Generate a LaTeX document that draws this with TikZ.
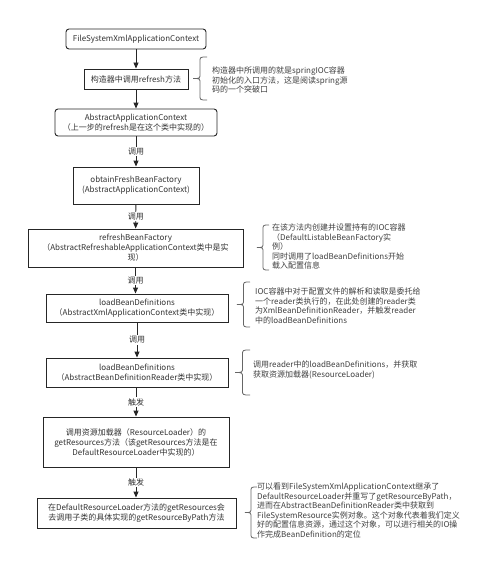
\documentclass[tikz,border=0pt]{standalone}
\usepackage{fontspec}
\setmainfont{Noto Sans CJK SC}
\usetikzlibrary{arrows.meta}
\newcommand{\drawbrace}[4]{%
  \pgfmathsetmacro\bxm{(#1+#2)/2}%
  \pgfmathsetmacro\bym{(#3+#4)/2}%
  \draw[brc] (#2,#3) .. controls (\bxm,#3) .. (\bxm,#3+5) -- (\bxm,\bym-5)
    .. controls (\bxm,\bym) .. (#1,\bym) .. controls (\bxm,\bym) .. (\bxm,\bym+5)
    -- (\bxm,#4-5) .. controls (\bxm,#4) .. (#2,#4);}
\begin{document}
\begin{tikzpicture}[x=1pt,y=-1pt,
 box/.style={draw=black!85, line width=0.9pt, fill=white, align=center, inner sep=1pt, font=\fontsize{8}{10}\selectfont, text=black!80},
 rbox/.style={box, rounded corners=3pt},
 arr/.style={draw=black!85, line width=0.9pt, -{Triangle[length=6pt,width=5pt]}},
 lbl/.style={fill=white, inner sep=1pt, font=\fontsize{8}{10}\selectfont, text=black!80},
 note/.style={anchor=north west, align=left, inner sep=0pt, font=\fontsize{8}{9.5}\selectfont, text=black!75},
 brc/.style={draw=black!60, line width=0.8pt}
]
\useasboundingbox[fill=white] (0,0) rectangle (500,578);

\node[rbox, minimum width=140pt, minimum height=20pt] (b1) at (136,39) {FileSystemXmlApplicationContext};
\node[box, minimum width=104pt, minimum height=20pt] (b2) at (136,79) {构造器中调用refresh方法};
\node[rbox, minimum width=162pt, minimum height=27pt] (b3) at (136,122.5) {AbstractApplicationContext\\（上一步的refresh是在这个类中实现的）};
\node[box, minimum width=126pt, minimum height=37pt] (b4) at (136,185.5) {obtainFreshBeanFactory\\(AbstractApplicationContext)};
\node[box, minimum width=215pt, minimum height=38pt] (b5) at (135.5,248) {refreshBeanFactory\\（AbstractRefreshableApplicationContext类中是实\\现）};
\node[box, minimum width=182pt, minimum height=28pt] (b6) at (137,308) {loadBeanDefinitions\\（AbstractXmlApplicationContext类中实现）};
\node[box, minimum width=182pt, minimum height=29pt] (b7) at (137,372.5) {loadBeanDefinitions\\（AbstractBeanDefinitionReader类中实现）};
\node[box, minimum width=186pt, minimum height=50pt] (b8) at (136,442) {调用资源加载器（ResourceLoader）的\\getResources方法（该getResources方法是在\\DefaultResourceLoader中实现的）};
\node[box, minimum width=199pt, minimum height=30pt] (b9) at (136.5,513) {在DefaultResourceLoader方法的getResources会\\去调用子类的具体实现的getResourceByPath方法};

\draw[arr] (b1) -- (b2);
\draw[arr] (b2) -- (b3);
\draw[arr] (b3) -- node[lbl] {调用} (b4);
\draw[arr] (b4) -- node[lbl] {调用} (b5);
\draw[arr] (b5) -- node[lbl] {调用} (b6.north -| b5.south);
\draw[arr] (b6) -- node[lbl] {调用} (b7);
\draw[arr] (b7.south -| b8.north) -- node[lbl] {触发} (b8);
\draw[arr] (b8) -- node[lbl] {触发} (b9.north -| b8.south);

\drawbrace{193}{207}{57}{100}
\node[note] (n1) at (212,67) {构造器中所调用的就是springIOC容器\\初始化的入口方法，这是阅读spring源\\码的一个突破口};
\drawbrace{257}{269}{225}{270}
\node[note] (n2) at (272,224) {在该方法内创建并设置持有的IOC容器\\（DefaultListableBeanFactory实\\例）\\同时调用了loadBeanDefinitions开始\\载入配置信息};
\drawbrace{237}{250}{282}{327}
\node[note] (n3) at (255,288) {IOC容器中对于配置文件的解析和读取是委托给\\一个reader类执行的，在此处创建的reader类\\为XmlBeanDefinitionReader，并触发reader\\中的loadBeanDefinitions};
\drawbrace{235}{250}{350}{395}
\node[note] (n4) at (253,361) {调用reader中的loadBeanDefinitions，并获取\\获取资源加载器(ResourceLoader)};
\drawbrace{245}{257}{487}{538}
\node[note] (n5) at (257,483) {可以看到FileSystemXmlApplicationContext继承了\\DefaultResourceLoader并重写了getResourceByPath，\\进而在AbstractBeanDefinitionReader类中获取到\\FileSystemResource实例对象。这个对象代表着我们定义\\好的配置信息资源，通过这个对象，可以进行相关的IO操\\作完成BeanDefinition的定位};
\end{tikzpicture}
\end{document}
